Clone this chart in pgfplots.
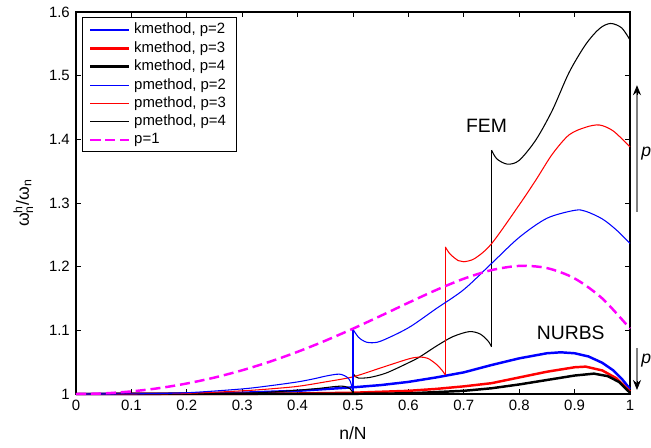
\documentclass[border=0pt]{standalone}
\usepackage{fontspec}
\setmainfont{Liberation Sans}
\usepackage{amsmath}
\usepackage{pgfplots}
\pgfplotsset{compat=1.18}
\usetikzlibrary{arrows.meta}

\definecolor{mblue}{RGB}{0,0,255}
\definecolor{mred}{RGB}{255,0,0}
\definecolor{mmag}{RGB}{255,0,255}

\begin{document}
\begin{tikzpicture}
\begin{axis}[
    scale only axis,
    width=11.08cm, height=7.64cm,
    xmin=0, xmax=1, ymin=1, ymax=1.6,
    xtick={0,0.1,...,1.0},
    ytick={1,1.1,1.2,1.3,1.4,1.5,1.6},
    major tick length=0.1cm,
    axis line style={line width=0.6pt},
    every tick/.style={black, line width=0.5pt},
    tick label style={font=\fontsize{8.5}{10}\selectfont},
    /pgf/number format/assume math mode=true,
    /pgf/number format/.cd, fixed, precision=1,
    /pgfplots/.cd,
    xlabel={n/N},
    ylabel={$\text{ω}^{\text{h}}_{\text{n}}\text{/}\text{ω}_{\text{n}}$},
    label style={font=\fontsize{9}{10}\selectfont},
    every axis x label/.style={at={(axis description cs:0.5,0)}, anchor=center, yshift=-0.78cm},
    every axis y label/.style={at={(axis description cs:-0.095,0.5)}, anchor=center, rotate=90},
    legend image code/.code={\draw[#1] (0cm,0cm) -- (0.78cm,0cm);},
    legend cell align=left,
    legend style={at={(0.0103,0.986)}, anchor=north west, draw=black, line width=0.6pt,
        font=\fontsize{8.5}{10}\selectfont, inner xsep=4pt, inner ysep=1pt, row sep=-1.2pt},
    clip=false,
]
% legend samples
\addlegendimage{mblue, line width=1.4pt}
\addlegendimage{mred, line width=1.4pt}
\addlegendimage{black, line width=1.4pt}
\addlegendimage{mblue, line width=0.6pt}
\addlegendimage{mred, line width=0.6pt}
\addlegendimage{black, line width=0.6pt}
\addlegendimage{mmag, line width=1.4pt, dash pattern=on 5.7pt off 2.8pt}
\legend{kmethod{,} p=2, kmethod{,} p=3, kmethod{,} p=4, pmethod{,} p=2, pmethod{,} p=3, pmethod{,} p=4, p=1}
% kmethod (NURBS)
\addplot[mblue, line width=1.4pt, forget plot] coordinates {
(0,1)(0.1,1.0001)(0.2,1.0006)(0.3,1.002)(0.4,1.005)(0.5,1.0105)(0.55,1.014)(0.6,1.019)
(0.65,1.026)(0.7,1.034)(0.75,1.0455)(0.8,1.056)(0.85,1.064)(0.875,1.0655)(0.9,1.064)
(0.925,1.059)(0.95,1.049)(0.97,1.037)(0.985,1.024)(1,1.008)};
\addplot[mred, line width=1.4pt, forget plot] coordinates {
(0,1)(0.3,1.0002)(0.4,1.0008)(0.5,1.002)(0.6,1.005)(0.65,1.008)(0.7,1.012)(0.75,1.017)
(0.8,1.026)(0.85,1.035)(0.9,1.042)(0.92,1.043)(0.95,1.037)(0.975,1.025)(1,1.004)};
\addplot[black, line width=1.4pt, forget plot] coordinates {
(0,1)(0.5,1.0003)(0.6,1.001)(0.7,1.005)(0.75,1.009)(0.8,1.015)(0.85,1.022)(0.9,1.029)
(0.935,1.032)(0.96,1.028)(0.98,1.019)(1,1.002)};
% pmethod (FEM)
\addplot[black, line width=0.6pt, smooth, forget plot] coordinates {
(0,1)(0.2,1.0002)(0.3,1.001)(0.35,1.003)(0.4,1.006)(0.44,1.009)(0.47,1.012)(0.485,1.012)
(0.495,1.008)(0.5,1.002)};
\addplot[black, line width=0.6pt, forget plot] coordinates {(0.5,1.002)(0.5,1.0325)};
\addplot[black, line width=0.6pt, smooth, forget plot] coordinates {
(0.5,1.0325)(0.505,1.027)(0.51,1.025)(0.53,1.026)(0.56,1.033)(0.6,1.049)(0.62,1.058)
(0.65,1.075)(0.68,1.09)(0.71,1.098)(0.73,1.094)(0.745,1.082)(0.75,1.074)};
\addplot[black, line width=0.6pt, forget plot] coordinates {(0.75,1.074)(0.75,1.383)};
\addplot[black, line width=0.6pt, smooth, forget plot] coordinates {
(0.75,1.383)(0.76,1.369)(0.779,1.361)(0.8,1.367)(0.83,1.399)(0.86,1.446)(0.89,1.505)
(0.92,1.549)(0.945,1.574)(0.965,1.582)(0.985,1.575)(1,1.556)};
\addplot[mred, line width=0.6pt, smooth, forget plot] coordinates {
(0,1)(0.1,1.0)(0.2,1.001)(0.3,1.005)(0.35,1.008)(0.4,1.012)(0.45,1.019)(0.5,1.027)
(0.55,1.041)(0.6,1.055)(0.62,1.058)(0.635,1.056)(0.65,1.047)(0.66,1.038)(0.6667,1.030)};
\addplot[mred, line width=0.6pt, forget plot] coordinates {(0.6667,1.030)(0.6667,1.231)};
\addplot[mred, line width=0.6pt, smooth, forget plot] coordinates {
(0.6667,1.231)(0.675,1.22)(0.69,1.2095)(0.7,1.2077)(0.72,1.213)(0.75,1.236)(0.8,1.297)
(0.83,1.336)(0.86,1.377)(0.89,1.407)(0.92,1.419)(0.945,1.4225)(0.97,1.413)(1,1.388)};
\addplot[mblue, line width=0.6pt, smooth, forget plot] coordinates {
(0,1)(0.1,1.0002)(0.2,1.002)(0.3,1.008)(0.35,1.013)(0.4,1.019)(0.43,1.024)(0.45,1.028)
(0.47,1.031)(0.48,1.0305)(0.49,1.026)(0.495,1.02)(0.5,1.005)};
\addplot[mblue, line width=0.6pt, forget plot] coordinates {(0.5,1.005)(0.5,1.1015)};
\addplot[mblue, line width=0.6pt, smooth, forget plot] coordinates {
(0.5,1.1015)(0.51,1.089)(0.52,1.083)(0.53,1.0806)(0.55,1.083)(0.6,1.104)(0.65,1.134)
(0.7,1.164)(0.75,1.205)(0.8,1.246)(0.85,1.276)(0.9,1.2885)(0.92,1.287)(0.95,1.275)
(0.975,1.258)(1,1.2366)};
% p=1
\addplot[mmag, line width=1.4pt, dash pattern=on 5.7pt off 2.8pt, smooth, forget plot] coordinates {
(0,1)(0.05,1.00096)(0.1,1.0041)(0.15,1.00925)(0.2,1.01652)(0.25,1.02584)(0.3,1.03729)
(0.35,1.0508)(0.4,1.06631)(0.45,1.0837)(0.5,1.10266)(0.55,1.12278)(0.6,1.14334)
(0.65,1.16329)(0.7,1.18108)(0.75,1.19458)(0.8,1.20118)(0.85,1.19782)(0.9,1.18153)
(0.95,1.15005)(1,1.10266)};
% annotations
\node[font=\fontsize{11}{12}\selectfont] at (axis cs:0.741,1.421) {FEM};
\node[font=\fontsize{11}{12}\selectfont] at (axis cs:0.893,1.0965) {NURBS};
\draw[gray, line width=0.8pt] (axis cs:1.0126,1.2862) -- (axis cs:1.0126,1.475);
\draw[-{Stealth[length=5.7pt,width=4.6pt]}, line width=0.5pt] (axis cs:1.0126,1.47) -- (axis cs:1.0126,1.485);
\draw[gray, line width=0.8pt] (axis cs:1.0126,1.0722) -- (axis cs:1.0126,1.016);
\draw[-{Stealth[length=5.7pt,width=4.6pt]}, line width=0.5pt] (axis cs:1.0126,1.02) -- (axis cs:1.0126,1.0063);
\node[font=\fontsize{10}{12}\selectfont\itshape, anchor=west, inner sep=0pt] at (axis cs:1.0199,1.378) {p};
\node[font=\fontsize{10}{12}\selectfont\itshape, anchor=west, inner sep=0pt] at (axis cs:1.0199,1.053) {p};
\end{axis}
\pgfresetboundingbox
\path (-1.52cm,-1.06cm) rectangle (11.5cm,7.88cm);
\end{tikzpicture}
\end{document}
